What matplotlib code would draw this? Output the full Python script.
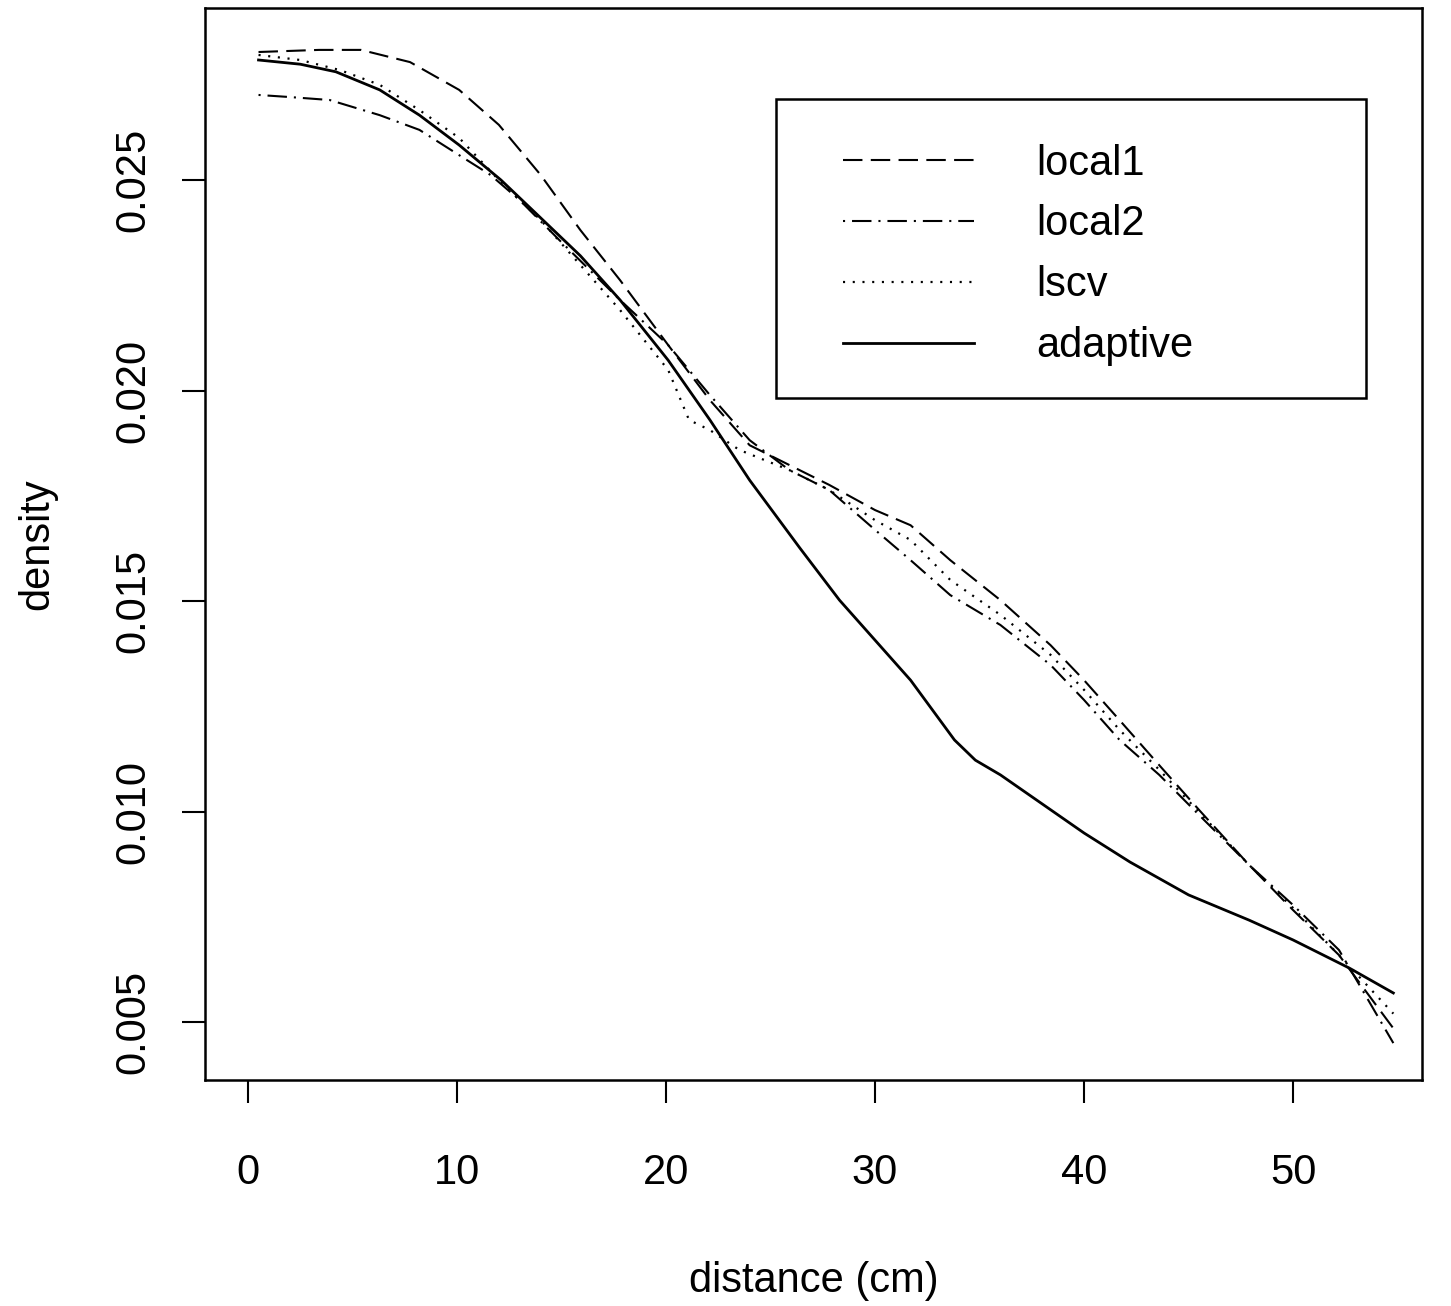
import numpy as np
import matplotlib.pyplot as plt
from matplotlib.patches import Rectangle

plt.rcParams['font.family'] = ['Liberation Sans', 'DejaVu Sans']
plt.rcParams['lines.scale_dashes'] = False

# curves (distance in cm, density)
adapt_x = [0.5, 2.5, 4.2, 6.3, 8.2, 10.1, 12.1, 14.0, 15.9, 17.8, 20.1, 22.1, 24.0,
           26.4, 28.3, 30.0, 31.7, 33.8, 34.8, 36.0, 40.0, 42.2, 45.0, 47.9, 50.0,
           52.7, 54.8]
adapt_y = [0.02785, 0.02775, 0.02757, 0.02714, 0.02654, 0.02583, 0.02500, 0.02410,
           0.02320, 0.02215, 0.02072, 0.01930, 0.01787, 0.01626, 0.01502, 0.01407,
           0.01312, 0.01170, 0.01122, 0.01087, 0.00949, 0.00880, 0.00802, 0.00742,
           0.00695, 0.00628, 0.00569]

local1_x = [0.5, 3.4, 5.4, 7.75, 10.1, 12.0, 14.0, 15.9, 17.8, 20.1, 22.1, 24.0, 25.9,
            27.8, 30.0, 31.7, 33.6, 36.0, 38.4, 40.0, 41.7, 43.6, 45.5, 47.9, 50.0,
            52.2, 54.8]
local1_y = [0.02804, 0.02809, 0.02809, 0.02780, 0.02714, 0.02631, 0.02512, 0.02381,
            0.02262, 0.02108, 0.01977, 0.01870, 0.01823, 0.01776, 0.01716, 0.01680,
            0.01597, 0.01502, 0.01395, 0.01312, 0.01217, 0.01110, 0.01004, 0.00873,
            0.00766, 0.00659, 0.00485]

local2_x = [0.5, 2.0, 3.9, 6.3, 8.2, 10.1, 11.6, 13.0, 14.9, 17.8, 20.1, 22.1, 24.0,
            25.9, 27.8, 30.0, 31.7, 33.6, 36.0, 38.4, 40.0, 41.7, 43.6, 45.5, 47.9,
            50.0, 52.2, 54.8]
local2_y = [0.02702, 0.02697, 0.02690, 0.02654, 0.02619, 0.02559, 0.02512, 0.02452,
            0.02357, 0.02215, 0.02108, 0.01989, 0.01882, 0.01811, 0.01764, 0.01669,
            0.01597, 0.01514, 0.01443, 0.01348, 0.01265, 0.01170, 0.01087, 0.00992,
            0.00873, 0.00778, 0.00671, 0.00450]

lscv_x = [0.5, 2.5, 4.4, 6.3, 8.2, 10.1, 12.0, 14.0, 15.9, 17.8, 20.1, 21.1, 22.1,
          23.5, 25.9, 27.8, 30.0, 31.7, 33.6, 36.0, 38.4, 40.0, 41.7, 43.6, 45.5,
          47.9, 50.0, 52.2, 54.8]
lscv_y = [0.02797, 0.02785, 0.02761, 0.02726, 0.02666, 0.02600, 0.02500, 0.02405,
          0.02298, 0.02191, 0.02049, 0.01930, 0.01906, 0.01859, 0.01811, 0.01764,
          0.01692, 0.01645, 0.01550, 0.01467, 0.01372, 0.01289, 0.01194, 0.01099,
          0.00999, 0.00873, 0.00771, 0.00659, 0.00520]

xticks = [0, 10, 20, 30, 40, 50]
yticks = [0.005, 0.010, 0.015, 0.020, 0.025]

fig = plt.figure(figsize=(14.51, 13.06), dpi=100)
ax = fig.add_axes([0.1413, 0.173, 0.8387, 0.8209])

ax.plot(local1_x, local1_y, color='black', lw=1.5, ls=(0, (14, 6)), label='local1')
ax.plot(local2_x, local2_y, color='black', lw=1.5, ls=(0, (1.5, 5, 14, 5)), label='local2')
ax.plot(lscv_x, lscv_y, color='black', lw=1.6, ls=(0, (1.5, 5.5)), label='lscv')
ax.plot(adapt_x, adapt_y, color='black', lw=2.0, label='adaptive')

ax.set_xlim(-2.06, 56.17)
ax.set_ylim(0.003622, 0.029086)
ax.set_xticks(xticks)
ax.set_xticklabels([str(t) for t in xticks])
ax.set_yticks(yticks)
ax.set_yticklabels(['%.3f' % t for t in yticks], rotation=90, va='center')
ax.tick_params(length=16.5, width=1.5, labelsize=30, pad=21)
ax.tick_params(axis='x', pad=36)
for s in ax.spines.values():
    s.set_linewidth(1.8)

ax.set_xlabel('distance (cm)', fontsize=30, labelpad=49)
ax.set_ylabel('density', fontsize=30, labelpad=40)

# R-style legend: wide box drawn separately, entries placed inside
ax.add_patch(Rectangle((0.4692, 0.6362), 0.4848, 0.2789, transform=ax.transAxes,
                       facecolor='white', edgecolor='black', lw=1.8, zorder=4))
leg = ax.legend(loc='upper left', bbox_to_anchor=(0.5242, 0.8735),
                fontsize=30, handlelength=3.15, handletextpad=1.5,
                labelspacing=0.5, borderpad=0, borderaxespad=0, frameon=False)
leg.set_zorder(5)

fig.savefig('out.png', dpi=100)
